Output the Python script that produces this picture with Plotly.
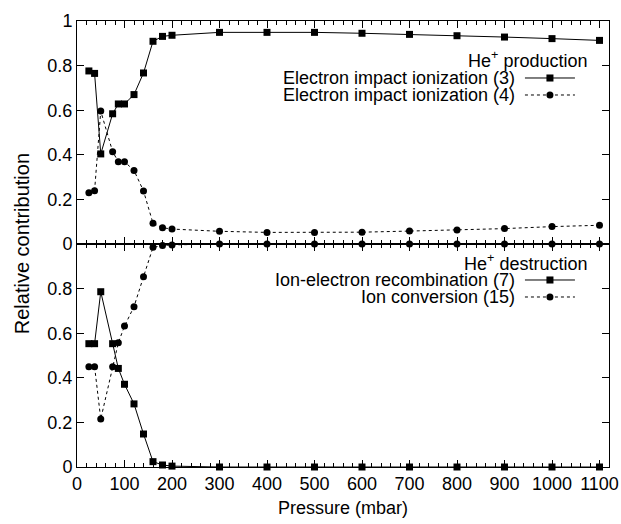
import plotly.graph_objects as go
from plotly.subplots import make_subplots

pressure = [25, 37, 50, 75, 87, 100, 120, 140, 160, 180, 200,
            300, 400, 500, 600, 700, 800, 900, 1000, 1100]

# He+ production
ion3 = [0.776, 0.765, 0.404, 0.584, 0.628, 0.628, 0.670, 0.767, 0.909, 0.931, 0.936,
        0.949, 0.949, 0.949, 0.945, 0.940, 0.934, 0.928, 0.921, 0.913]
ion4 = [0.230, 0.239, 0.596, 0.414, 0.369, 0.369, 0.330, 0.238, 0.093, 0.073, 0.067,
        0.057, 0.052, 0.052, 0.053, 0.058, 0.063, 0.069, 0.078, 0.084]

# He+ destruction
rec7 = [0.553, 0.553, 0.786, 0.553, 0.442, 0.371, 0.283, 0.148, 0.024, 0.009, 0.004,
        0.0, 0.0, 0.0, 0.0, 0.0, 0.0, 0.0, 0.0, 0.0]
conv15 = [0.450, 0.450, 0.215, 0.450, 0.557, 0.632, 0.719, 0.853, 0.985, 0.993, 0.996,
          1.0, 1.0, 1.0, 1.0, 1.0, 1.0, 1.0, 1.0, 1.0]

top_names = ["Electron impact ionization (3)", "Electron impact ionization (4)"]
bot_names = ["Ion-electron recombination (7)", "Ion conversion (15)"]
top_title = "He<sup>+</sup> production"
bot_title = "He<sup>+</sup> destruction"
x_title = "Pressure (mbar)"
y_title = "Relative contribution"

FONT = "Liberation Sans, Arial, sans-serif"
FS = 18

fig = make_subplots(rows=2, cols=1, shared_xaxes=True, vertical_spacing=0)

sq = dict(symbol="square", size=7, color="black")
ci = dict(symbol="circle", size=7, color="black")
solid = dict(color="black", width=1)
dotted = dict(color="black", width=1, dash="dot")

fig.add_trace(go.Scatter(x=pressure, y=ion3, mode="lines+markers", marker=sq, line=solid,
                         cliponaxis=False, showlegend=False, hoverinfo="skip"), row=1, col=1)
fig.add_trace(go.Scatter(x=pressure, y=ion4, mode="lines+markers", marker=ci, line=dotted,
                         cliponaxis=False, showlegend=False, hoverinfo="skip"), row=1, col=1)
fig.add_trace(go.Scatter(x=pressure, y=rec7, mode="lines+markers", marker=sq, line=solid,
                         cliponaxis=False, showlegend=False, hoverinfo="skip"), row=2, col=1)
fig.add_trace(go.Scatter(x=pressure, y=conv15, mode="lines+markers", marker=ci, line=dotted,
                         cliponaxis=False, showlegend=False, hoverinfo="skip"), row=2, col=1)

axis_common = dict(showline=True, linecolor="black", linewidth=1, mirror="ticks",
                   ticks="inside", tickcolor="black", showgrid=False, zeroline=False,
                   automargin=False,
                   tickfont=dict(family=FONT, size=FS, color="black"))

xcommon = dict(axis_common, range=[0, 1120], tickvals=list(range(0, 1101, 100)), ticklen=7,
               minor=dict(tickvals=[v for v in range(0, 1101, 20) if v % 100], ticklen=4,
                          ticks="inside", tickcolor="black"))
fig.update_xaxes(xcommon, showticklabels=False, row=1, col=1)
fig.update_xaxes(xcommon, showticklabels=True, row=2, col=1)

fig.update_yaxes(axis_common, range=[0, 1], tickvals=[0, 0.2, 0.4, 0.6, 0.8, 1], ticklen=7,
                 row=1, col=1)
fig.update_yaxes(axis_common, range=[0, 1], tickvals=[0, 0.2, 0.4, 0.6, 0.8], ticklen=7,
                 row=2, col=1)

fig.add_annotation(text=y_title, xref="paper", yref="paper",
                   x=-0.103, y=0.5, xanchor="center", yanchor="middle", textangle=-90,
                   showarrow=False, font=dict(family=FONT, size=20, color="black"))
fig.add_annotation(text=x_title, xref="paper", yref="paper",
                   x=0.5, y=-0.092, xanchor="center", yanchor="middle",
                   showarrow=False, font=dict(family=FONT, size=FS, color="black"))

# legends (text right-aligned, sample on the right)
def legend_block(title, ytit, names, ys):
    fig.add_annotation(text=title, xref="paper", yref="paper", x=0.96, y=ytit,
                       xanchor="right", yanchor="middle", showarrow=False, borderpad=0,
                       font=dict(family=FONT, size=FS, color="black"))
    for i, (nm, yy) in enumerate(zip(names, ys)):
        fig.add_annotation(text=nm, xref="paper", yref="paper", x=0.826, y=yy,
                           xanchor="right", yanchor="middle", showarrow=False, borderpad=0,
                           font=dict(family=FONT, size=FS, color="black"))
        fig.add_shape(type="line", xref="paper", yref="paper", x0=0.842, x1=0.936, y0=yy, y1=yy,
                      line=dict(color="black", width=1, dash="solid" if i == 0 else "dot"))
        xc, rx, ry = 0.889, 0.0066, 0.0079
        fig.add_shape(type="rect" if i == 0 else "circle", xref="paper", yref="paper",
                      x0=xc - rx, x1=xc + rx, y0=yy - ry, y1=yy + ry,
                      fillcolor="black", line=dict(width=0))

legend_block(top_title, 0.9126, top_names, [0.8722, 0.8341])
legend_block(bot_title, 0.4574, bot_names, [0.4193, 0.3812])

fig.update_layout(width=621, height=524, margin=dict(l=77, r=12, t=21, b=57),
                  plot_bgcolor="white", paper_bgcolor="white",
                  font=dict(family=FONT, size=FS, color="black"))

fig.write_html("out.html", config={"displayModeBar": False},
               post_script="document.body.style.margin='0';")
